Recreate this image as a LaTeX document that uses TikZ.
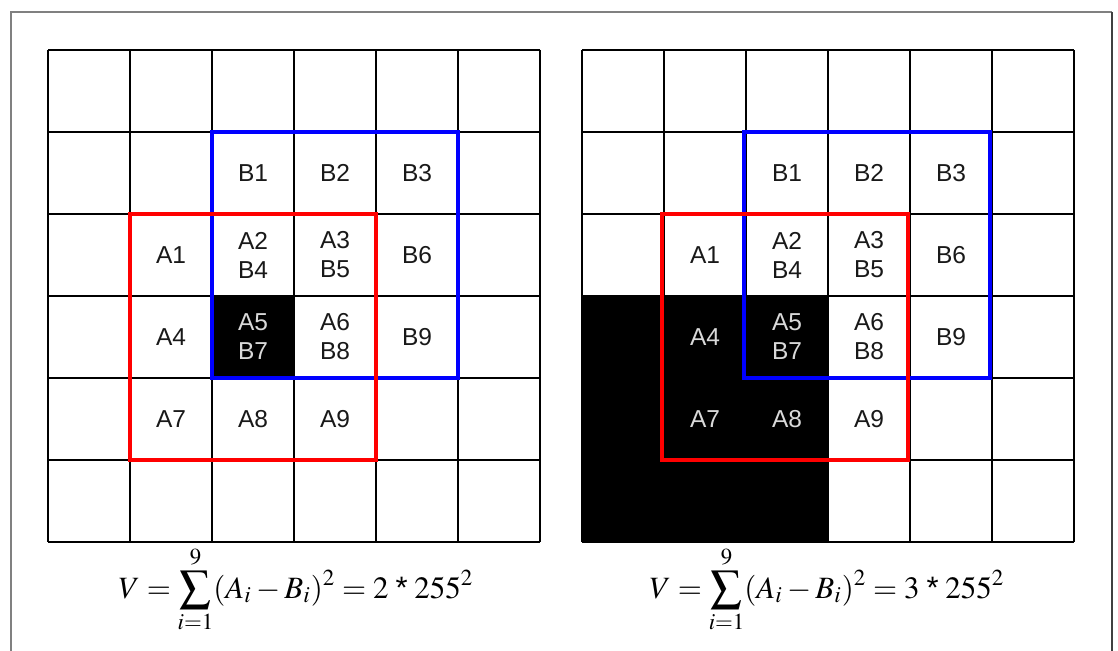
\documentclass[tikz,border=0pt]{standalone}
\usepackage{mathptmx}
\usepackage{fontspec}
\setmainfont{Liberation Sans}
\begin{document}
\begin{tikzpicture}[x=0.5pt,y=-0.5pt,
  gridline/.style={line width=0.8pt,black},
  redbox/.style={line width=2pt,draw=red},
  bluebox/.style={line width=2pt,draw=blue},
  lbl/.style={inner sep=0pt,align=center,font=\fontsize{12.25}{14.5}\selectfont,text=black!90},
  lblinv/.style={lbl,text=black!15},
  formula/.style={inner sep=0pt,anchor=base,font=\fontsize{15.5}{18}\selectfont}]
\useasboundingbox (0,0) rectangle (1118,651);
\fill[white] (0,0) rectangle (1118,651);
% frame
\draw[line width=1.3pt,black!50] (11,651) -- (11,12) -- (1112,12);
\draw[line width=1pt,black!75] (1112,12) -- (1112,651);
% black cells
\fill[black] (212,296) rectangle (294,378);
\fill[black] (582,296) rectangle (828,542);
% grids
\foreach \ox in {0,534}{
  \foreach \i in {0,...,6}{
    \draw[gridline] ({48+\ox+82*\i},50) -- ({48+\ox+82*\i},542);
    \draw[gridline] ({48+\ox},{50+82*\i}) -- ({540+\ox},{50+82*\i});
  }
}
% boxes
\draw[bluebox] (212,132) rectangle (458,378);
\draw[redbox] (130,214) rectangle (376,460);
\draw[bluebox] (744,132) rectangle (990,378);
\draw[redbox] (662,214) rectangle (908,460);
% left labels
\node[lbl] (lB1) at (253,173) {B1};
\node[lbl] (lB2) at (335,173) {B2};
\node[lbl] (lB3) at (417,173) {B3};
\node[lbl] (lA1) at (171,255) {A1};
\node[lbl] (lA2) at (253,255) {A2\\B4};
\node[lbl] (lA3) at (335,255) {A3\\B5};
\node[lbl] (lB6) at (417,255) {B6};
\node[lbl] (lA4) at (171,337) {A4};
\node[lblinv] (lA5) at (253,337) {A5\\B7};
\node[lbl] (lA6) at (335,337) {A6\\B8};
\node[lbl] (lB9) at (417,337) {B9};
\node[lbl] (lA7) at (171,419) {A7};
\node[lbl] (lA8) at (253,419) {A8};
\node[lbl] (lA9) at (335,419) {A9};
% right labels
\node[lbl] (rB1) at (787,173) {B1};
\node[lbl] (rB2) at (869,173) {B2};
\node[lbl] (rB3) at (951,173) {B3};
\node[lbl] (rA1) at (705,255) {A1};
\node[lbl] (rA2) at (787,255) {A2\\B4};
\node[lbl] (rA3) at (869,255) {A3\\B5};
\node[lbl] (rB6) at (951,255) {B6};
\node[lblinv] (rA4) at (705,337) {A4};
\node[lblinv] (rA5) at (787,337) {A5\\B7};
\node[lbl] (rA6) at (869,337) {A6\\B8};
\node[lbl] (rB9) at (951,337) {B9};
\node[lblinv] (rA7) at (705,419) {A7};
\node[lblinv] (rA8) at (787,419) {A8};
\node[lbl] (rA9) at (869,419) {A9};
% formulas
\node[formula] (fl) at (296,598) {$\displaystyle V = \sum_{i=1}^{9}(A_i - B_i)^2 = 2\;\mbox{*}\;255^2$};
\node[formula] (fr) at (827,598) {$\displaystyle V = \sum_{i=1}^{9}(A_i - B_i)^2 = 3\;\mbox{*}\;255^2$};
\end{tikzpicture}
\end{document}
